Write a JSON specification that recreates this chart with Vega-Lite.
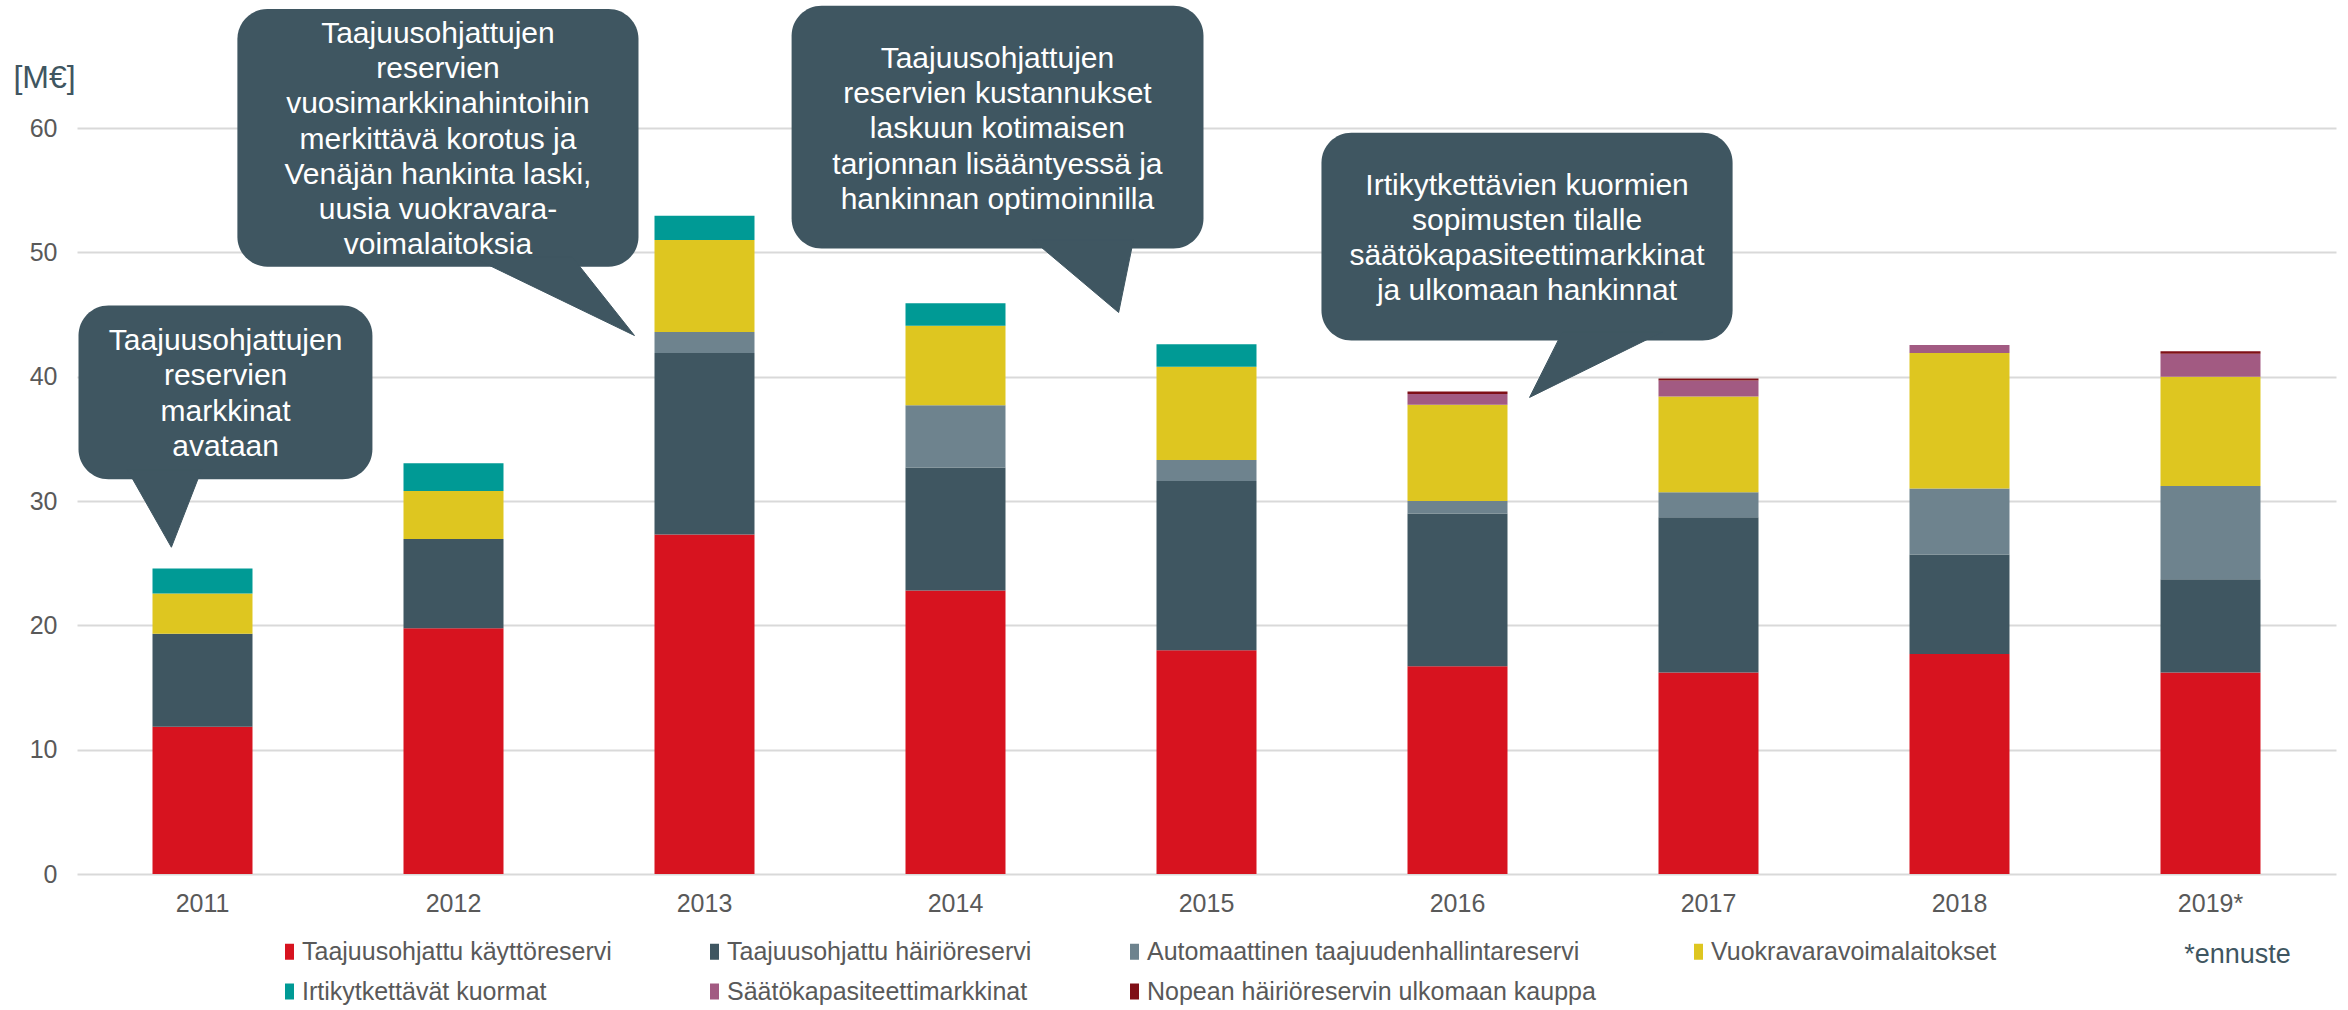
{
  "$schema": "https://vega.github.io/schema/vega-lite/v6.json",
  "width": 2259,
  "height": 746,
  "autosize": {"type": "none"},
  "padding": {"left": 77, "top": 128, "right": 12, "bottom": 136},
  "background": "white",
  "config": {
    "view": {"stroke": null},
    "font": "Liberation Sans",
    "axis": {"labelFont": "Liberation Sans", "titleFont": "Liberation Sans"},
    "legend": {"labelFont": "Liberation Sans"}
  },
  "datasets": {
    "bars": [
      {"year": "2011", "series": "Taajuusohjattu käyttöreservi", "k": 1, "value": 11.85},
      {"year": "2011", "series": "Taajuusohjattu häiriöreservi", "k": 2, "value": 7.48},
      {"year": "2011", "series": "Vuokravaravoimalaitokset", "k": 4, "value": 3.24},
      {"year": "2011", "series": "Irtikytkettävät kuormat", "k": 5, "value": 2.01},
      {"year": "2012", "series": "Taajuusohjattu käyttöreservi", "k": 1, "value": 19.77},
      {"year": "2012", "series": "Taajuusohjattu häiriöreservi", "k": 2, "value": 7.18},
      {"year": "2012", "series": "Vuokravaravoimalaitokset", "k": 4, "value": 3.86},
      {"year": "2012", "series": "Irtikytkettävät kuormat", "k": 5, "value": 2.22},
      {"year": "2013", "series": "Taajuusohjattu käyttöreservi", "k": 1, "value": 27.3},
      {"year": "2013", "series": "Taajuusohjattu häiriöreservi", "k": 2, "value": 14.6},
      {"year": "2013", "series": "Automaattinen taajuudenhallintareservi", "k": 3, "value": 1.7},
      {"year": "2013", "series": "Vuokravaravoimalaitokset", "k": 4, "value": 7.4},
      {"year": "2013", "series": "Irtikytkettävät kuormat", "k": 5, "value": 1.95},
      {"year": "2014", "series": "Taajuusohjattu käyttöreservi", "k": 1, "value": 22.8},
      {"year": "2014", "series": "Taajuusohjattu häiriöreservi", "k": 2, "value": 9.9},
      {"year": "2014", "series": "Automaattinen taajuudenhallintareservi", "k": 3, "value": 5.0},
      {"year": "2014", "series": "Vuokravaravoimalaitokset", "k": 4, "value": 6.4},
      {"year": "2014", "series": "Irtikytkettävät kuormat", "k": 5, "value": 1.8},
      {"year": "2015", "series": "Taajuusohjattu käyttöreservi", "k": 1, "value": 18.0},
      {"year": "2015", "series": "Taajuusohjattu häiriöreservi", "k": 2, "value": 13.6},
      {"year": "2015", "series": "Automaattinen taajuudenhallintareservi", "k": 3, "value": 1.7},
      {"year": "2015", "series": "Vuokravaravoimalaitokset", "k": 4, "value": 7.5},
      {"year": "2015", "series": "Irtikytkettävät kuormat", "k": 5, "value": 1.8},
      {"year": "2016", "series": "Taajuusohjattu käyttöreservi", "k": 1, "value": 16.7},
      {"year": "2016", "series": "Taajuusohjattu häiriöreservi", "k": 2, "value": 12.3},
      {"year": "2016", "series": "Automaattinen taajuudenhallintareservi", "k": 3, "value": 1.0},
      {"year": "2016", "series": "Vuokravaravoimalaitokset", "k": 4, "value": 7.75},
      {"year": "2016", "series": "Säätökapasiteettimarkkinat", "k": 6, "value": 0.85},
      {"year": "2016", "series": "Nopean häiriöreservin ulkomaan kauppa", "k": 7, "value": 0.2},
      {"year": "2017", "series": "Taajuusohjattu käyttöreservi", "k": 1, "value": 16.2},
      {"year": "2017", "series": "Taajuusohjattu häiriöreservi", "k": 2, "value": 12.5},
      {"year": "2017", "series": "Automaattinen taajuudenhallintareservi", "k": 3, "value": 2.0},
      {"year": "2017", "series": "Vuokravaravoimalaitokset", "k": 4, "value": 7.7},
      {"year": "2017", "series": "Säätökapasiteettimarkkinat", "k": 6, "value": 1.3},
      {"year": "2017", "series": "Nopean häiriöreservin ulkomaan kauppa", "k": 7, "value": 0.15},
      {"year": "2018", "series": "Taajuusohjattu käyttöreservi", "k": 1, "value": 17.7},
      {"year": "2018", "series": "Taajuusohjattu häiriöreservi", "k": 2, "value": 8.0},
      {"year": "2018", "series": "Automaattinen taajuudenhallintareservi", "k": 3, "value": 5.3},
      {"year": "2018", "series": "Vuokravaravoimalaitokset", "k": 4, "value": 10.9},
      {"year": "2018", "series": "Säätökapasiteettimarkkinat", "k": 6, "value": 0.65},
      {"year": "2019*", "series": "Taajuusohjattu käyttöreservi", "k": 1, "value": 16.2},
      {"year": "2019*", "series": "Taajuusohjattu häiriöreservi", "k": 2, "value": 7.5},
      {"year": "2019*", "series": "Automaattinen taajuudenhallintareservi", "k": 3, "value": 7.5},
      {"year": "2019*", "series": "Vuokravaravoimalaitokset", "k": 4, "value": 8.8},
      {"year": "2019*", "series": "Säätökapasiteettimarkkinat", "k": 6, "value": 1.85},
      {"year": "2019*", "series": "Nopean häiriöreservin ulkomaan kauppa", "k": 7, "value": 0.2}
    ],
    "boxes": [
      {"id": 1, "x1": -0.494, "x2": 0.677, "y1": 45.72, "y2": 31.74},
      {"id": 2, "x1": 0.139, "x2": 1.737, "y1": 69.58, "y2": 48.85},
      {"id": 3, "x1": 2.347, "x2": 3.988, "y1": 69.83, "y2": 50.3},
      {"id": 4, "x1": 4.458, "x2": 6.096, "y1": 59.62, "y2": 42.91}
    ],
    "tails": [
      {"id": 1, "k": 1, "x": -0.299, "y": 32.5},
      {"id": 1, "k": 2, "x": -0.124, "y": 26.28},
      {"id": 1, "k": 3, "x": -0.004, "y": 32.5},
      {"id": 2, "k": 1, "x": 1.076, "y": 49.6},
      {"id": 2, "k": 2, "x": 1.721, "y": 43.31},
      {"id": 2, "k": 3, "x": 1.474, "y": 49.6},
      {"id": 3, "k": 1, "x": 3.307, "y": 51.0},
      {"id": 3, "k": 2, "x": 3.65, "y": 45.16},
      {"id": 3, "k": 3, "x": 3.709, "y": 51.0},
      {"id": 4, "k": 1, "x": 5.418, "y": 43.6},
      {"id": 4, "k": 2, "x": 5.287, "y": 38.33},
      {"id": 4, "k": 3, "x": 5.817, "y": 43.6}
    ],
    "notes": [
      {"id": 1, "x": 0.092, "y": 42.87, "text": ["Taajuusohjattujen", "reservien", "markkinat", "avataan"]},
      {"id": 2, "x": 0.938, "y": 67.59, "text": ["Taajuusohjattujen", "reservien", "vuosimarkkinahintoihin", "merkittävä korotus ja", "Venäjän hankinta laski,", "uusia vuokravara-", "voimalaitoksia"]},
      {"id": 3, "x": 3.167, "y": 65.58, "text": ["Taajuusohjattujen", "reservien kustannukset", "laskuun kotimaisen", "tarjonnan lisääntyessä ja", "hankinnan optimoinnilla"]},
      {"id": 4, "x": 5.277, "y": 55.37, "text": ["Irtikytkettävien kuormien", "sopimusten tilalle", "säätökapasiteettimarkkinat", "ja ulkomaan hankinnat"]}
    ]
  },
  "layer": [
    {
      "data": {"name": "bars"},
      "mark": {"type": "bar"},
      "encoding": {
        "x": {
          "field": "year", "type": "nominal",
          "scale": {"paddingInner": 0.6016, "paddingOuter": 0.3008},
          "axis": {
            "labelAngle": 0, "labelFontSize": 25, "labelColor": "#595959",
            "labelPadding": 17, "ticks": false, "domain": false, "grid": false,
            "title": "*ennuste", "titleX": 2160, "titleY": 80, "titleAlign": "center",
            "titleBaseline": "middle", "titleFontSize": 27, "titleFontWeight": "normal",
            "titleColor": "#3F5661"
          }
        },
        "y": {
          "field": "value", "type": "quantitative", "stack": "zero",
          "scale": {"domain": [0, 60], "nice": false},
          "axis": {
            "values": [0, 10, 20, 30, 40, 50, 60],
            "labelFontSize": 25, "labelColor": "#595959", "labelPadding": 20,
            "ticks": false, "domain": false, "grid": true, "gridColor": "#D9D9D9", "gridWidth": 2,
            "title": "[M€]", "titleAngle": 0, "titleX": -33, "titleY": -51,
            "titleAlign": "center", "titleBaseline": "middle", "titleFontSize": 32,
            "titleFontWeight": "normal", "titleColor": "#3F5661"
          }
        },
        "color": {
          "field": "series", "type": "nominal",
          "scale": {
            "domain": ["Taajuusohjattu käyttöreservi", "Taajuusohjattu häiriöreservi", "Automaattinen taajuudenhallintareservi", "Vuokravaravoimalaitokset", "Irtikytkettävät kuormat", "Säätökapasiteettimarkkinat", "Nopean häiriöreservin ulkomaan kauppa"],
            "range": ["#D7131F", "#3F5661", "#6E838E", "#DEC620", "#009A95", "#A25A82", "#7F0F17"]
          },
          "legend": {
            "orient": "none", "legendX": 200, "legendY": 811, "direction": "horizontal",
            "columns": 4, "columnPadding": 90, "rowPadding": 14, "title": null,
            "symbolType": "M-0.56,-1H0.56V1H-0.56Z", "symbolSize": 256, "symbolStrokeWidth": 0,
            "labelFontSize": 25, "labelColor": "#595959", "labelOffset": 0, "labelLimit": 0
          }
        },
        "order": {"field": "k", "type": "quantitative"}
      }
    },
    {
      "data": {"name": "boxes"},
      "mark": {"type": "rect", "color": "#3F5661", "cornerRadius": 30},
      "encoding": {
        "x": {"field": "x1", "type": "quantitative", "scale": {"domain": [-0.5, 8.5], "nice": false, "zero": false}, "axis": null},
        "x2": {"field": "x2"},
        "y": {"field": "y1", "type": "quantitative", "scale": {"domain": [0, 60], "nice": false}, "axis": null},
        "y2": {"field": "y2"}
      }
    },
    {
      "data": {"name": "tails"},
      "mark": {"type": "line", "interpolate": "linear-closed", "fill": "#3F5661", "stroke": "#3F5661", "strokeWidth": 1},
      "encoding": {
        "x": {"field": "x", "type": "quantitative", "scale": {"domain": [-0.5, 8.5], "nice": false, "zero": false}, "axis": null},
        "y": {"field": "y", "type": "quantitative", "scale": {"domain": [0, 60], "nice": false}, "axis": null},
        "detail": {"field": "id", "type": "nominal"},
        "order": {"field": "k", "type": "quantitative"}
      }
    },
    {
      "data": {"name": "notes"},
      "mark": {"type": "text", "color": "white", "fontSize": 30, "lineHeight": 35.3, "align": "center", "baseline": "middle", "font": "Liberation Sans"},
      "encoding": {
        "x": {"field": "x", "type": "quantitative", "scale": {"domain": [-0.5, 8.5], "nice": false, "zero": false}, "axis": null},
        "y": {"field": "y", "type": "quantitative", "scale": {"domain": [0, 60], "nice": false}, "axis": null},
        "text": {"field": "text"}
      }
    }
  ],
  "resolve": {"scale": {"x": "independent", "y": "independent"}}
}
